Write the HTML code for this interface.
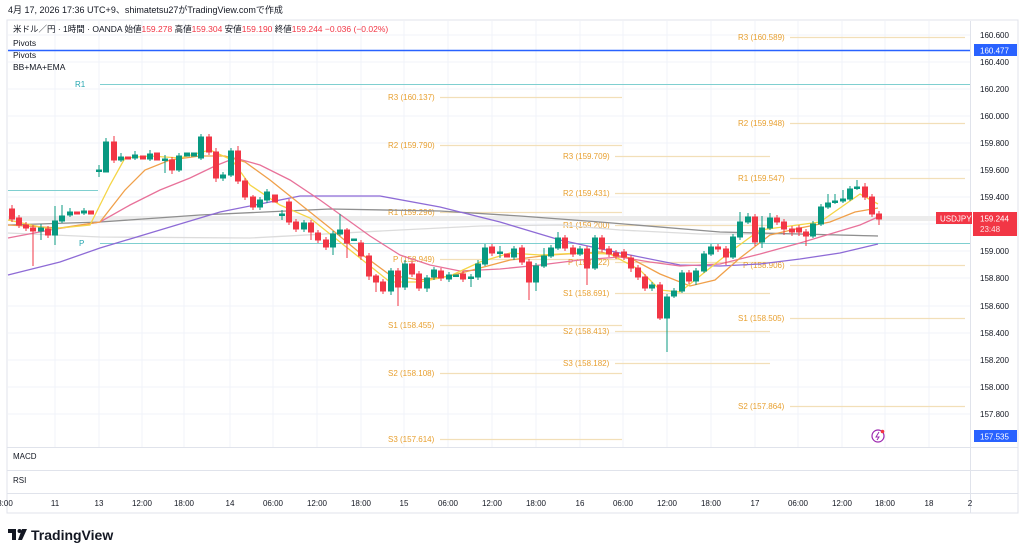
<!DOCTYPE html>
<html><head><meta charset="utf-8"><style>
html,body{margin:0;padding:0;background:#fff;width:1024px;height:556px;overflow:hidden;font-family:"Liberation Sans","Noto Sans CJK JP",sans-serif}
svg{position:absolute;left:0;top:0}
</style></head><body>
<svg width="1024" height="556" viewBox="0 0 1024 556" xmlns="http://www.w3.org/2000/svg" font-family="Liberation Sans, Noto Sans CJK JP, sans-serif">
<text x="8" y="13" font-size="9" fill="#131722">4月 17, 2026 17:36 UTC+9、shimatetsu27がTradingView.comで作成</text>
<rect x="7" y="20" width="1011" height="493" fill="none" stroke="#e0e3eb" stroke-width="1"/>
<g stroke="#f0f3fa" stroke-width="1">
<line x1="55" y1="21" x2="55" y2="447"/><line x1="99" y1="21" x2="99" y2="447"/><line x1="142" y1="21" x2="142" y2="447"/><line x1="184" y1="21" x2="184" y2="447"/><line x1="230" y1="21" x2="230" y2="447"/><line x1="273" y1="21" x2="273" y2="447"/><line x1="317" y1="21" x2="317" y2="447"/><line x1="361" y1="21" x2="361" y2="447"/><line x1="404" y1="21" x2="404" y2="447"/><line x1="448" y1="21" x2="448" y2="447"/><line x1="492" y1="21" x2="492" y2="447"/><line x1="536" y1="21" x2="536" y2="447"/><line x1="580" y1="21" x2="580" y2="447"/><line x1="623" y1="21" x2="623" y2="447"/><line x1="667" y1="21" x2="667" y2="447"/><line x1="711" y1="21" x2="711" y2="447"/><line x1="755" y1="21" x2="755" y2="447"/><line x1="798" y1="21" x2="798" y2="447"/><line x1="842" y1="21" x2="842" y2="447"/><line x1="885" y1="21" x2="885" y2="447"/><line x1="929" y1="21" x2="929" y2="447"/>
<line x1="8" y1="35" x2="970" y2="35"/><line x1="8" y1="62" x2="970" y2="62"/><line x1="8" y1="89" x2="970" y2="89"/><line x1="8" y1="116" x2="970" y2="116"/><line x1="8" y1="143" x2="970" y2="143"/><line x1="8" y1="170" x2="970" y2="170"/><line x1="8" y1="197" x2="970" y2="197"/><line x1="8" y1="224" x2="970" y2="224"/><line x1="8" y1="251" x2="970" y2="251"/><line x1="8" y1="278" x2="970" y2="278"/><line x1="8" y1="306" x2="970" y2="306"/><line x1="8" y1="333" x2="970" y2="333"/><line x1="8" y1="360" x2="970" y2="360"/><line x1="8" y1="387" x2="970" y2="387"/><line x1="8" y1="414" x2="970" y2="414"/>
</g>
<line x1="970.5" y1="21" x2="970.5" y2="513" stroke="#e0e3eb"/>
<line x1="7" y1="447.5" x2="1018" y2="447.5" stroke="#e0e3eb"/>
<line x1="7" y1="470.5" x2="1018" y2="470.5" stroke="#e0e3eb"/>
<line x1="7" y1="493.5" x2="1018" y2="493.5" stroke="#e0e3eb"/>
<!-- current price band -->
<rect x="8" y="216" width="930" height="5" fill="#ececec"/>
<!-- blue line -->
<line x1="8" y1="50.5" x2="970" y2="50.5" stroke="#2962ff" stroke-width="1.5"/>
<!-- teal pivots -->
<g stroke="#7fcfd0" stroke-width="1">
<line x1="100" y1="84.5" x2="970" y2="84.5"/><line x1="100" y1="243.5" x2="970" y2="243.5"/><line x1="8" y1="190.5" x2="98" y2="190.5"/>
</g>
<text x="75" y="87" font-size="8" fill="#26a6b0">R1</text>
<text x="79" y="246" font-size="8" fill="#26a6b0">P</text>
<!-- orange pivots -->
<g stroke="#f2dfb8" stroke-width="1.2">
<line x1="440" y1="97.5" x2="622" y2="97.5"/><line x1="440" y1="145.5" x2="622" y2="145.5"/><line x1="440" y1="212.5" x2="622" y2="212.5"/><line x1="440" y1="259.5" x2="622" y2="259.5"/><line x1="440" y1="325.5" x2="622" y2="325.5"/><line x1="440" y1="373.5" x2="622" y2="373.5"/><line x1="440" y1="439.5" x2="622" y2="439.5"/>
<line x1="615" y1="156.5" x2="770" y2="156.5"/><line x1="615" y1="193.5" x2="770" y2="193.5"/><line x1="615" y1="225.5" x2="770" y2="225.5"/><line x1="615" y1="262.5" x2="770" y2="262.5"/><line x1="615" y1="293.5" x2="770" y2="293.5"/><line x1="615" y1="331.5" x2="770" y2="331.5"/><line x1="615" y1="363.5" x2="770" y2="363.5"/>
<line x1="790" y1="37.5" x2="965" y2="37.5"/><line x1="790" y1="123.5" x2="965" y2="123.5"/><line x1="790" y1="178.5" x2="965" y2="178.5"/><line x1="790" y1="265.5" x2="965" y2="265.5"/><line x1="790" y1="318.5" x2="965" y2="318.5"/><line x1="790" y1="406.5" x2="965" y2="406.5"/>
</g>
<g font-size="8" fill="#e8a030">
<text x="388" y="100">R3 (160.137)</text><text x="388" y="148">R2 (159.790)</text><text x="388" y="215">R1 (159.296)</text><text x="393" y="262">P (158.949)</text><text x="388" y="328">S1 (158.455)</text><text x="388" y="376">S2 (158.108)</text><text x="388" y="442">S3 (157.614)</text>
<text x="563" y="159">R3 (159.709)</text><text x="563" y="196">R2 (159.431)</text><text x="563" y="228">R1 (159.200)</text><text x="568" y="265">P (158.922)</text><text x="563" y="296">S1 (158.691)</text><text x="563" y="334">S2 (158.413)</text><text x="563" y="366">S3 (158.182)</text>
<text x="738" y="40">R3 (160.589)</text><text x="738" y="126">R2 (159.948)</text><text x="738" y="181">R1 (159.547)</text><text x="743" y="268">P (158.906)</text><text x="738" y="321">S1 (158.505)</text><text x="738" y="409">S2 (157.864)</text>
</g>
<!-- MAs -->
<g fill="none" stroke-width="1.3">
<polyline stroke="#dcdcdc" points="8,233 100,237 250,238 400,230 480,226 560,225 620,230 700,234 800,234 878,236"/>
<polyline stroke="#8f8f8f" points="8,225 100,222 200,215 330,209 440,211 520,216 600,222 720,232 800,234 878,236"/>
<polyline stroke="#8e6bd6" points="8,275 60,262 100,248 160,230 220,212 300,196 380,196 440,207 500,222 560,240 620,253 680,265 720,266 760,264 800,259 840,253 878,244"/>
<polyline stroke="#e8729a" points="8,238 50,230 100,222 130,205 160,190 190,178 215,166 235,158 260,165 290,180 320,200 345,218 370,236 400,255 430,265 460,271 500,269 540,265 580,260 620,257 650,262 680,266 720,264 760,254 800,243 830,234 860,225 878,217"/>
<polyline stroke="#f0a04a" points="8,225 60,228 100,222 125,190 145,170 170,160 200,156 225,156 245,162 270,180 300,204 330,228 360,253 390,275 420,280 450,276 480,268 510,260 550,255 600,252 630,258 660,274 690,286 715,280 740,258 770,235 800,228 830,222 855,212 878,208"/>
<polyline stroke="#f5d547" points="8,220 50,229 90,225 110,185 125,158 150,156 180,158 210,150 232,160 250,185 280,205 310,218 335,238 360,258 390,282 420,282 450,276 480,262 510,253 540,255 580,253 610,254 640,270 660,290 680,292 700,276 730,252 760,230 790,226 820,222 840,208 860,194 878,204"/>
</g>
<!-- candles -->
<g stroke-width="1">
<g stroke="#f23645" fill="#f23645">
<line x1="12" y1="205" x2="12" y2="222"/><rect x="9.5" y="209" width="5" height="10"/>
<line x1="19" y1="215" x2="19" y2="228"/><rect x="16.5" y="218" width="5" height="7"/>
<line x1="26" y1="222" x2="26" y2="231"/><rect x="23.5" y="225" width="5" height="3"/>
<line x1="33" y1="225" x2="33" y2="266"/><rect x="30.5" y="228" width="5" height="3"/>
<line x1="48" y1="226" x2="48" y2="238"/><rect x="45.5" y="229" width="5" height="6"/>
<rect x="74.5" y="212" width="5" height="2"/>
<rect x="88.5" y="211" width="5" height="3"/>
<line x1="114" y1="136" x2="114" y2="163"/><rect x="111.5" y="142" width="5" height="18"/>
<rect x="125.5" y="157" width="5" height="2"/>
<rect x="140.5" y="156" width="5" height="3"/>
<rect x="154.5" y="153" width="5" height="7"/>
<line x1="172" y1="157" x2="172" y2="174"/><rect x="169.5" y="160" width="5" height="10"/>
<line x1="209" y1="134" x2="209" y2="155"/><rect x="206.5" y="137" width="5" height="15"/>
<line x1="216" y1="148" x2="216" y2="182"/><rect x="213.5" y="152" width="5" height="26"/>
<line x1="238" y1="146" x2="238" y2="184"/><rect x="235.5" y="151" width="5" height="30"/>
<line x1="245" y1="178" x2="245" y2="200"/><rect x="242.5" y="181" width="5" height="16"/>
<line x1="253" y1="195" x2="253" y2="210"/><rect x="250.5" y="197" width="5" height="10"/>
<rect x="272.5" y="195" width="5" height="7"/>
<line x1="289" y1="199" x2="289" y2="225"/><rect x="286.5" y="202" width="5" height="20"/>
<line x1="296" y1="219" x2="296" y2="232"/><rect x="293.5" y="222" width="5" height="7"/>
<line x1="311" y1="220" x2="311" y2="240"/><rect x="308.5" y="223" width="5" height="9"/>
<line x1="318" y1="230" x2="318" y2="243"/><rect x="315.5" y="233" width="5" height="7"/>
<line x1="326" y1="237" x2="326" y2="250"/><rect x="323.5" y="240" width="5" height="7"/>
<line x1="347" y1="228" x2="347" y2="258"/><rect x="344.5" y="230" width="5" height="13"/>
<line x1="361" y1="240" x2="361" y2="260"/><rect x="358.5" y="243" width="5" height="13"/>
<line x1="369" y1="253" x2="369" y2="280"/><rect x="366.5" y="256" width="5" height="20"/>
<line x1="376" y1="274" x2="376" y2="292"/><rect x="373.5" y="276" width="5" height="6"/>
<line x1="383" y1="279" x2="383" y2="294"/><rect x="380.5" y="282" width="5" height="9"/>
<line x1="398" y1="268" x2="398" y2="306"/><rect x="395.5" y="271" width="5" height="16"/>
<line x1="412" y1="261" x2="412" y2="277"/><rect x="409.5" y="264" width="5" height="10"/>
<line x1="419" y1="271" x2="419" y2="291"/><rect x="416.5" y="274" width="5" height="14"/>
<line x1="441" y1="268" x2="441" y2="281"/><rect x="438.5" y="271" width="5" height="7"/>
<line x1="463" y1="271" x2="463" y2="282"/><rect x="460.5" y="274" width="5" height="5"/>
<line x1="492" y1="244" x2="492" y2="256"/><rect x="489.5" y="247" width="5" height="6"/>
<rect x="504.5" y="254" width="5" height="3"/>
<line x1="522" y1="245" x2="522" y2="265"/><rect x="519.5" y="248" width="5" height="14"/>
<line x1="529" y1="259" x2="529" y2="300"/><rect x="526.5" y="262" width="5" height="20"/>
<line x1="565" y1="235" x2="565" y2="251"/><rect x="562.5" y="238" width="5" height="10"/>
<line x1="573" y1="245" x2="573" y2="257"/><rect x="570.5" y="248" width="5" height="6"/>
<line x1="587" y1="246" x2="587" y2="285"/><rect x="584.5" y="249" width="5" height="19"/>
<line x1="602" y1="235" x2="602" y2="252"/><rect x="599.5" y="238" width="5" height="11"/>
<line x1="609" y1="246" x2="609" y2="257"/><rect x="606.5" y="249" width="5" height="5"/>
<line x1="616" y1="250" x2="616" y2="259"/><rect x="613.5" y="253" width="5" height="3"/>
<line x1="624" y1="249" x2="624" y2="260"/><rect x="621.5" y="252" width="5" height="5"/>
<line x1="631" y1="255" x2="631" y2="272"/><rect x="628.5" y="258" width="5" height="10"/>
<line x1="638" y1="265" x2="638" y2="280"/><rect x="635.5" y="268" width="5" height="9"/>
<line x1="645" y1="274" x2="645" y2="291"/><rect x="642.5" y="277" width="5" height="11"/>
<line x1="660" y1="282" x2="660" y2="320"/><rect x="657.5" y="285" width="5" height="33"/>
<line x1="689" y1="270" x2="689" y2="284"/><rect x="686.5" y="273" width="5" height="8"/>
<line x1="718" y1="244" x2="718" y2="252"/><rect x="715.5" y="247" width="5" height="2"/>
<line x1="726" y1="246" x2="726" y2="265"/><rect x="723.5" y="249" width="5" height="8"/>
<line x1="755" y1="214" x2="755" y2="246"/><rect x="752.5" y="217" width="5" height="25"/>
<line x1="777" y1="215" x2="777" y2="225"/><rect x="774.5" y="218" width="5" height="4"/>
<line x1="784" y1="219" x2="784" y2="235"/><rect x="781.5" y="222" width="5" height="7"/>
<line x1="792" y1="226" x2="792" y2="236"/><rect x="789.5" y="229" width="5" height="3"/>
<line x1="799" y1="225" x2="799" y2="236"/><rect x="796.5" y="228" width="5" height="4"/>
<line x1="806" y1="229" x2="806" y2="246"/><rect x="803.5" y="232" width="5" height="4"/>
<line x1="865" y1="183" x2="865" y2="200"/><rect x="862.5" y="187" width="5" height="10"/>
<line x1="872" y1="194" x2="872" y2="217"/><rect x="869.5" y="197" width="5" height="17"/>
<line x1="879" y1="211" x2="879" y2="225"/><rect x="876.5" y="214" width="5" height="5"/>
</g>
<g stroke="#089981" fill="#089981">
<line x1="41" y1="224" x2="41" y2="240"/><rect x="38.5" y="228" width="5" height="3"/>
<line x1="55" y1="206" x2="55" y2="245"/><rect x="52.5" y="221" width="5" height="14"/>
<line x1="62" y1="205" x2="62" y2="223"/><rect x="59.5" y="216" width="5" height="5"/>
<line x1="70" y1="208" x2="70" y2="217"/><rect x="67.5" y="212" width="5" height="3"/>
<line x1="84" y1="208" x2="84" y2="215"/><rect x="81.5" y="211" width="5" height="2"/>
<line x1="99" y1="165" x2="99" y2="177"/><rect x="96.5" y="170" width="5" height="1.5"/>
<line x1="106" y1="138" x2="106" y2="172"/><rect x="103.5" y="142" width="5" height="30"/>
<line x1="121" y1="153" x2="121" y2="162"/><rect x="118.5" y="157" width="5" height="3"/>
<line x1="135" y1="151" x2="135" y2="160"/><rect x="132.5" y="155" width="5" height="3"/>
<line x1="150" y1="150" x2="150" y2="161"/><rect x="147.5" y="154" width="5" height="5"/>
<line x1="165" y1="155" x2="165" y2="173"/><rect x="162.5" y="159" width="5" height="1.5"/>
<line x1="179" y1="153" x2="179" y2="172"/><rect x="176.5" y="156" width="5" height="14"/>
<rect x="184.5" y="153" width="5" height="3"/>
<rect x="191.5" y="153" width="5" height="3"/>
<line x1="201" y1="134" x2="201" y2="160"/><rect x="198.5" y="137" width="5" height="21"/>
<line x1="223" y1="172" x2="223" y2="181"/><rect x="220.5" y="175" width="5" height="3"/>
<line x1="231" y1="148" x2="231" y2="177"/><rect x="228.5" y="151" width="5" height="24"/>
<line x1="260" y1="197" x2="260" y2="210"/><rect x="257.5" y="200" width="5" height="7"/>
<line x1="267" y1="189" x2="267" y2="203"/><rect x="264.5" y="192" width="5" height="8"/>
<line x1="282" y1="210" x2="282" y2="220"/><rect x="279.5" y="214" width="5" height="1.5"/>
<line x1="304" y1="220" x2="304" y2="232"/><rect x="301.5" y="223" width="5" height="6"/>
<line x1="333" y1="231" x2="333" y2="255"/><rect x="330.5" y="234" width="5" height="13"/>
<line x1="340" y1="214" x2="340" y2="236"/><rect x="337.5" y="230" width="5" height="4"/>
<rect x="351.5" y="239" width="5" height="1.5"/>
<line x1="391" y1="268" x2="391" y2="295"/><rect x="388.5" y="271" width="5" height="20"/>
<line x1="405" y1="260" x2="405" y2="290"/><rect x="402.5" y="264" width="5" height="23"/>
<line x1="427" y1="275" x2="427" y2="292"/><rect x="424.5" y="278" width="5" height="10"/>
<line x1="434" y1="267" x2="434" y2="280"/><rect x="431.5" y="270" width="5" height="7"/>
<line x1="449" y1="272" x2="449" y2="282"/><rect x="446.5" y="275" width="5" height="4"/>
<rect x="453.5" y="275" width="5" height="1.5"/>
<line x1="471" y1="274" x2="471" y2="287"/><rect x="468.5" y="277" width="5" height="1.5"/>
<line x1="478" y1="260" x2="478" y2="280"/><rect x="475.5" y="264" width="5" height="13"/>
<line x1="485" y1="244" x2="485" y2="266"/><rect x="482.5" y="248" width="5" height="16"/>
<line x1="500" y1="246" x2="500" y2="258"/><rect x="497.5" y="252" width="5" height="1.5"/>
<line x1="514" y1="246" x2="514" y2="260"/><rect x="511.5" y="249" width="5" height="8"/>
<line x1="536" y1="263" x2="536" y2="291"/><rect x="533.5" y="266" width="5" height="16"/>
<line x1="544" y1="248" x2="544" y2="268"/><rect x="541.5" y="256" width="5" height="10"/>
<line x1="551" y1="245" x2="551" y2="258"/><rect x="548.5" y="248" width="5" height="8"/>
<line x1="558" y1="232" x2="558" y2="250"/><rect x="555.5" y="238" width="5" height="10"/>
<line x1="580" y1="246" x2="580" y2="256"/><rect x="577.5" y="249" width="5" height="5"/>
<line x1="595" y1="235" x2="595" y2="270"/><rect x="592.5" y="238" width="5" height="30"/>
<line x1="652" y1="282" x2="652" y2="291"/><rect x="649.5" y="285" width="5" height="3"/>
<line x1="667" y1="294" x2="667" y2="352"/><rect x="664.5" y="297" width="5" height="21"/>
<line x1="674" y1="288" x2="674" y2="298"/><rect x="671.5" y="291" width="5" height="5"/>
<line x1="682" y1="270" x2="682" y2="293"/><rect x="679.5" y="273" width="5" height="18"/>
<line x1="696" y1="268" x2="696" y2="285"/><rect x="693.5" y="271" width="5" height="10"/>
<line x1="704" y1="251" x2="704" y2="273"/><rect x="701.5" y="254" width="5" height="17"/>
<line x1="711" y1="244" x2="711" y2="256"/><rect x="708.5" y="247" width="5" height="7"/>
<line x1="733" y1="234" x2="733" y2="259"/><rect x="730.5" y="237" width="5" height="20"/>
<line x1="740" y1="212" x2="740" y2="240"/><rect x="737.5" y="222" width="5" height="15"/>
<line x1="748" y1="213" x2="748" y2="224"/><rect x="745.5" y="217" width="5" height="5"/>
<line x1="762" y1="216" x2="762" y2="248"/><rect x="759.5" y="228" width="5" height="14"/>
<line x1="770" y1="213" x2="770" y2="230"/><rect x="767.5" y="218" width="5" height="10"/>
<line x1="813" y1="221" x2="813" y2="238"/><rect x="810.5" y="224" width="5" height="12"/>
<line x1="821" y1="204" x2="821" y2="226"/><rect x="818.5" y="207" width="5" height="17"/>
<line x1="828" y1="194" x2="828" y2="209"/><rect x="825.5" y="203" width="5" height="4"/>
<line x1="835" y1="194" x2="835" y2="204"/><rect x="832.5" y="201" width="5" height="1.5"/>
<line x1="843" y1="190" x2="843" y2="203"/><rect x="840.5" y="199" width="5" height="2"/>
<line x1="850" y1="186" x2="850" y2="201"/><rect x="847.5" y="189" width="5" height="10"/>
<line x1="857" y1="180" x2="857" y2="190"/><rect x="854.5" y="187" width="5" height="1.5"/>
</g>
</g>
<!-- legend -->
<g font-size="8.5">
<text x="13" y="32" fill="#131722">米ドル／円 · 1時間 · OANDA  始値<tspan fill="#f23645">159.278</tspan>  高値<tspan fill="#f23645">159.304</tspan>  安値<tspan fill="#f23645">159.190</tspan>  終値<tspan fill="#f23645">159.244</tspan>  <tspan fill="#f23645">−0.036 (−0.02%)</tspan></text>
<text x="13" y="46" fill="#131722">Pivots</text>
<text x="13" y="58" fill="#131722">Pivots</text>
<text x="13" y="70" fill="#131722">BB+MA+EMA</text>
<text x="13" y="459" fill="#131722" font-size="8">MACD</text>
<text x="13" y="483" fill="#131722" font-size="8">RSI</text>
</g>
<!-- flash icon -->
<circle cx="878" cy="436" r="6" fill="none" stroke="#9c27b0" stroke-width="1.2"/>
<path d="M879 432 L876 437 L879 437 L877 440" fill="none" stroke="#9c27b0" stroke-width="1"/>
<circle cx="882.5" cy="431.5" r="1.8" fill="#f23645"/>
<!-- price axis -->
<g font-size="8" fill="#131722">
<text x="980" y="38">160.600</text><text x="980" y="65">160.400</text><text x="980" y="92">160.200</text><text x="980" y="119">160.000</text><text x="980" y="146">159.800</text><text x="980" y="173">159.600</text><text x="980" y="200">159.400</text><text x="980" y="254">159.000</text><text x="980" y="281">158.800</text><text x="980" y="309">158.600</text><text x="980" y="336">158.400</text><text x="980" y="363">158.200</text><text x="980" y="390">158.000</text><text x="980" y="417">157.800</text>
</g>
<rect x="974" y="44" width="43" height="12" fill="#2962ff"/>
<text x="980" y="53.5" font-size="8" fill="#fff">160.477</text>
<rect x="974" y="430" width="43" height="12" fill="#2962ff"/>
<text x="980" y="439.5" font-size="8" fill="#fff">157.535</text>
<rect x="936" y="212" width="36" height="12" fill="#f23645"/>
<text x="940" y="221.5" font-size="8" fill="#fff">USDJPY</text>
<rect x="973" y="212" width="44" height="24" fill="#f23645"/>
<text x="980" y="221.5" font-size="8" fill="#fff">159.244</text>
<text x="980" y="232" font-size="8" fill="#fde0e3">23:48</text>
<!-- time axis -->
<g font-size="8" fill="#131722" text-anchor="middle">
<text x="5" y="506">3:00</text><text x="55" y="506">11</text><text x="99" y="506">13</text><text x="142" y="506">12:00</text><text x="184" y="506">18:00</text><text x="230" y="506">14</text><text x="273" y="506">06:00</text><text x="317" y="506">12:00</text><text x="361" y="506">18:00</text><text x="404" y="506">15</text><text x="448" y="506">06:00</text><text x="492" y="506">12:00</text><text x="536" y="506">18:00</text><text x="580" y="506">16</text><text x="623" y="506">06:00</text><text x="667" y="506">12:00</text><text x="711" y="506">18:00</text><text x="755" y="506">17</text><text x="798" y="506">06:00</text><text x="842" y="506">12:00</text><text x="885" y="506">18:00</text><text x="929" y="506">18</text><text x="970" y="506">2</text>
</g>
<!-- logo -->
<g fill="#131722">
<rect x="8" y="529" width="8" height="4"/><rect x="12" y="529" width="4" height="11"/>
<circle cx="19.5" cy="531" r="2"/>
<path d="M22 529 L27 529 L22 540 L18 540 Z"/>
</g>
<text x="31" y="540" font-size="14" font-weight="bold" fill="#131722">TradingView</text>
</svg>
</body></html>
